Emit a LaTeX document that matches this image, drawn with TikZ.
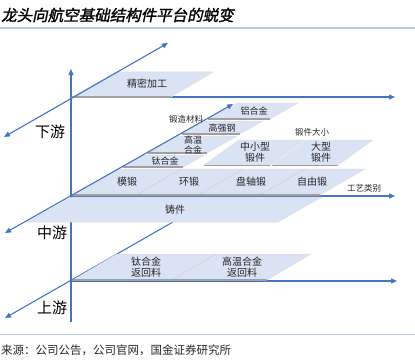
\documentclass[tikz,border=0pt]{standalone}
\usepackage{fontspec}
\setmainfont{Noto Sans CJK SC}
\newfontfamily\titlefont[FakeSlant=0.2,FakeBold=1.5]{Noto Sans CJK SC}
\usepackage{xcolor}
\usetikzlibrary{arrows.meta}
\definecolor{axisblue}{RGB}{68,114,196}
\definecolor{slabblue}{RGB}{218,227,243}
\definecolor{slabshade}{RGB}{160,160,160}
\definecolor{ruleblue}{RGB}{184,204,228}
\tikzset{>={Triangle[length=6pt,width=5pt]}}
\tikzset{
  axis/.style={axisblue, line width=1.1pt},
  slab/.style={fill=slabblue, draw=gray!25, line width=0.5pt},
  slabfoot/.style={slabshade, line width=1.3pt},
  celldiv/.style={gray!40, densely dotted, line width=0.9pt},
  boxtext/.style={font=\fontsize{10}{11}\selectfont, text=black!85, align=center, inner sep=0pt},
  thintext/.style={font=\fontsize{9}{9.5}\selectfont, text=black!85, align=center, inner sep=0pt},
  smalltag/.style={font=\fontsize{8.5}{9}\selectfont, text=black!85, inner sep=0pt},
  tierlabel/.style={font=\fontsize{15}{16}\selectfont, inner sep=0pt}
}

\begin{document}
\begin{tikzpicture}[x=1pt, y=-1pt]
\useasboundingbox (0,0) rectangle (415,361);

% Title and rules
\node[anchor=west, font=\titlefont\fontsize{15.5}{17}\selectfont, inner sep=0pt] (title) at (1,15) {龙头向航空基础结构件平台的蜕变};
\draw[ruleblue, line width=1.5pt] (0,28) -- (415,28);
\draw[ruleblue, line width=1pt] (0,334) -- (415,334);
\node[anchor=west, font=\fontsize{11.5}{13}\selectfont, text=black!85, inner sep=0pt] (source) at (1,350) {来源：公司公告，公司官网，国金证券研究所};

% Axes
\draw[axis, ->] (71,322) -- (71,69);
\foreach \y/\e in {97/395, 196/395, 281/397}{
    \draw[axis, ->] (72,\y) -- (\e,\y);
}
\draw[axis, ->] (173,222) -- (5,318);

% Top tier
\fill[slab] (72,97) -- (116,72) -- (213,72) -- (171,97) -- cycle;
\draw[slabfoot] (72,97) -- (171,97);

% Middle tier: process row
\fill[slab] (73,195) -- (118,169) -- (365,169) -- (320,195) -- cycle;
\foreach \b in {136, 198, 260}{
    \draw[celldiv] (\b,195) -- (\b+45,169);
}
\draw[slabfoot, line width=2pt] (73,195) -- (320,195);

% Middle tier: casting
\fill[slab] (72,197) -- (322,197) -- (278,222) -- (27,222) -- cycle;

% Middle tier: material stack
\fill[slab] (123,167) -- (145,155) -- (205,155) -- (183,167) -- cycle;
\draw[slabfoot] (123,167) -- (183,167);
\fill[slab] (148,153) -- (178,136) -- (237,136) -- (207,153) -- cycle;
\draw[slabfoot] (148,153) -- (207,153);
\fill[slab] (182,134) -- (205,121) -- (263,121) -- (240,134) -- cycle;
\draw[slabfoot] (182,134) -- (240,134);
\fill[slab] (208,119) -- (237,103) -- (298,103) -- (270,119) -- cycle;
\draw[slabfoot] (208,119) -- (270,119);

% Middle tier: forging size
\fill[slab] (204,165) -- (239,140) -- (305,140) -- (270,165) -- cycle;
\fill[slab] (272,165) -- (307,140) -- (373,140) -- (338,165) -- cycle;
\draw[slabfoot, line width=0.8pt] (204,165) -- (270,165);
\draw[slabfoot, line width=0.8pt] (272,165) -- (338,165);

% Bottom tier
\fill[slab] (73,280) -- (117,254) -- (311,254) -- (267,280) -- cycle;
\draw[celldiv] (172,280) -- (216,254);
\draw[slabfoot] (73,280) -- (267,280);

% Diagonal axes on top
\draw[axis, <->] (4,137) -- (168,43);
\draw[axis, <->] (5,233) -- (233,104);

% Labels
\node[boxtext] (jingmi) at (147,84) {精密加工};
\foreach \x/\t [count=\i] in {127/模锻, 189/环锻, 251/盘轴锻, 312/自由锻}{
    \node[boxtext] (proc\i) at (\x,182) {\t};
}
\node[boxtext] (zhujian) at (175,210) {铸件};
\node[thintext] (taihejin) at (165,161) {钛合金};
\node[thintext] (gaowen) at (193,145) {高温\\合金};
\node[thintext] (gaoqiang) at (222,128) {高强钢};
\node[thintext] (lvhejin) at (254,111) {铝合金};
\node[boxtext] (zhongxiao) at (255,152.5) {中小型\\锻件};
\node[boxtext] (daxing) at (321,152.5) {大型\\锻件};
\node[boxtext] (taihuishou) at (146,267.5) {钛合金\\返回料};
\node[boxtext] (gaohuishou) at (242,267.5) {高温合金\\返回料};

\node[smalltag] (cailiao) at (186,119) {锻造材料};
\node[smalltag] (daxiao) at (312,132) {锻件大小};
\node[smalltag] (gongyi) at (364,188) {工艺类别};

\node[tierlabel] (xiayou) at (50,132) {下游};
\node[tierlabel] (zhongyou) at (52,233) {中游};
\node[tierlabel] (shangyou) at (52,308) {上游};

\end{tikzpicture}
\end{document}
